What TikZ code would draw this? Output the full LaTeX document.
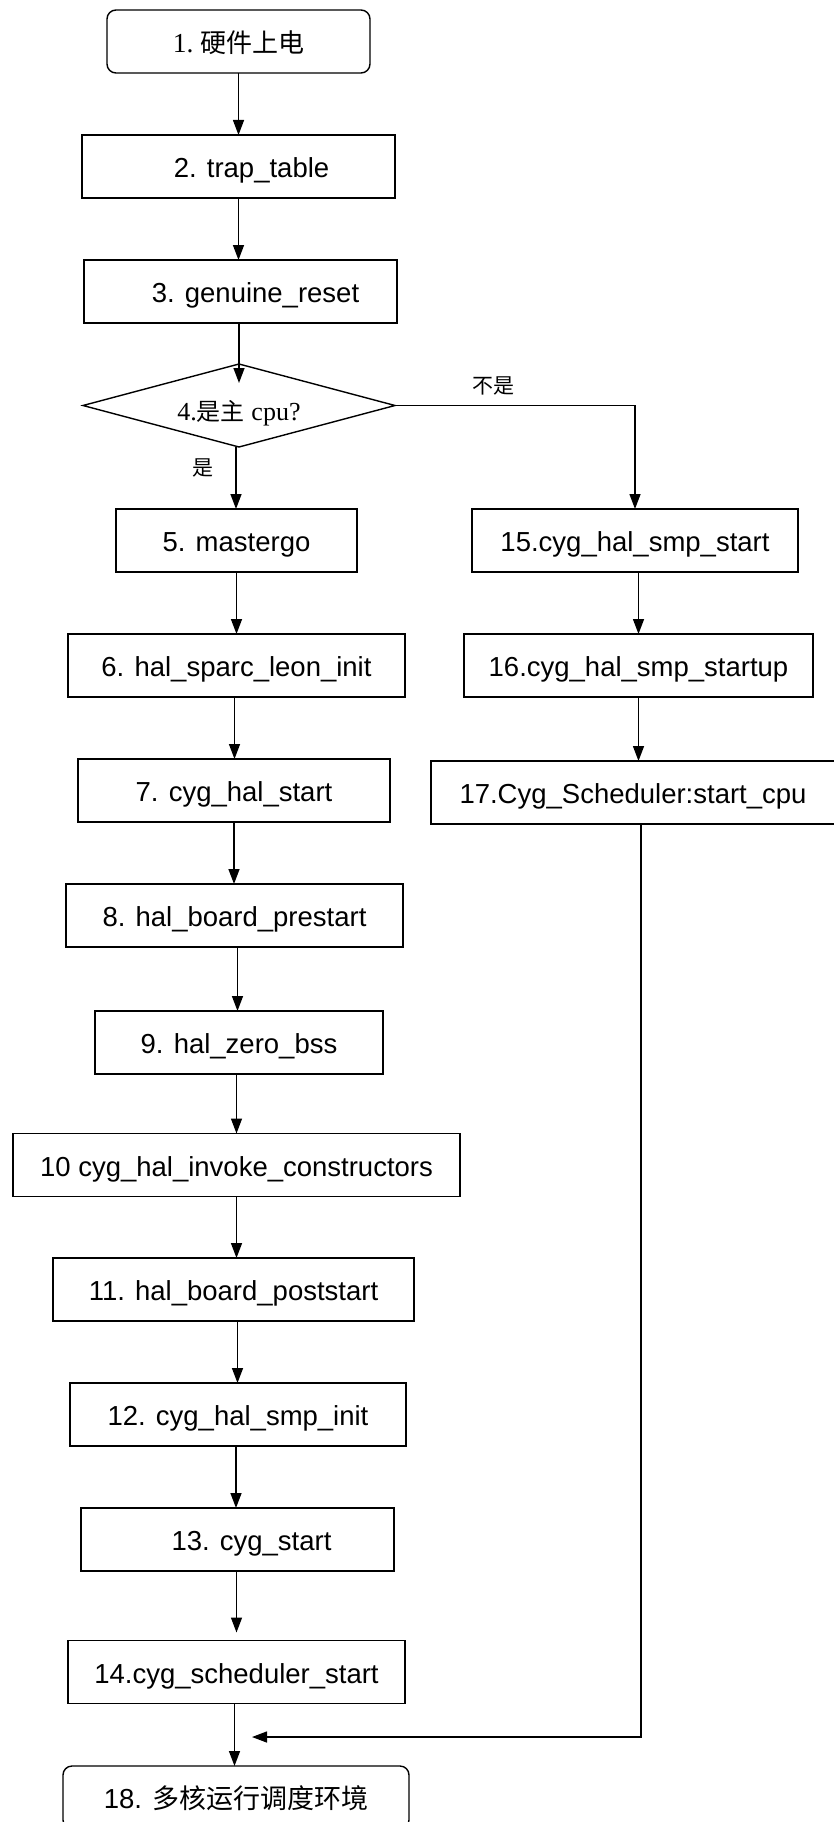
\documentclass[tikz,border=0pt]{standalone}
\usepackage{fontspec}
\setmainfont{Liberation Sans}
\newfontfamily\cjk{Noto Sans CJK SC}
\newfontfamily\tms{Liberation Serif}
\usetikzlibrary{arrows.meta,shapes.geometric}
\begin{document}
\begin{tikzpicture}[x=1pt,y=-1pt,
 box/.style={draw,line width=1.4pt,inner sep=0pt,outer sep=0pt,minimum height=63pt,text height=26pt,text depth=4pt,font=\fontsize{27.5}{32}\selectfont},
 rbox/.style={box,rounded corners=9pt},
 arr/.style={line width=1.4pt,-{Triangle[length=15pt,width=11pt]}},
 lbl/.style={font=\cjk\fontsize{21}{24}\selectfont,inner sep=0pt}]
\useasboundingbox (0,0) rectangle (833,1822);
\fill[white] (0,0) rectangle (833,1822);
% left column
\node[rbox,minimum width=263pt] (b1) at (238.5,41.5) {\tms 1.\ {\cjk\fontsize{26}{30}\selectfont 硬件上电}};
\node[box,minimum width=313pt] (b2) at (238.5,166.5) {\hspace*{26pt}2. trap\_table};
\node[box,minimum width=313pt] (b3) at (240.5,291.5) {\hspace*{30pt}3. genuine\_reset};
\node[draw,line width=1.4pt,shape=diamond,aspect=3.76,minimum width=312pt,minimum height=83pt,inner sep=0pt,outer sep=0pt,font=\fontsize{26}{30}\selectfont] (d4) at (239,405.5) {\raisebox{-15pt}[0pt][0pt]{\tms 4.{\cjk\fontsize{24}{28}\selectfont 是主} cpu?}};
\node[box,minimum width=241pt] (b5) at (236.5,540.5) {5. mastergo};
\node[box,minimum width=337pt] (b6) at (236.5,665.5) {6. hal\_sparc\_leon\_init};
\node[box,minimum width=312pt] (b7) at (234,790.5) {7. cyg\_hal\_start};
\node[box,minimum width=337pt] (b8) at (234.5,915.5) {8. hal\_board\_prestart};
\node[box,minimum width=288pt] (b9) at (239,1042.5) {9. hal\_zero\_bss};
\node[box,minimum width=447pt] (b10) at (236.5,1165) {10 cyg\_hal\_invoke\_constructors};
\node[box,minimum width=361pt] (b11) at (233.5,1289.5) {11. hal\_board\_poststart};
\node[box,minimum width=336pt] (b12) at (238,1414.5) {12. cyg\_hal\_smp\_init};
\node[box,minimum width=313pt] (b13) at (237.5,1539.5) {\hspace*{28pt}13. cyg\_start};
\node[box,minimum width=337pt] (b14) at (236.5,1672) {14.cyg\_scheduler\_start};
\node[rbox,minimum width=346pt] (b18) at (236,1797.5) {18. {\cjk\fontsize{27}{30}\selectfont 多核运行调度环境}};
% right column
\node[box,minimum width=326pt] (b15) at (635,540.5) {15.cyg\_hal\_smp\_start};
\node[box,minimum width=349pt] (b16) at (638.5,665.5) {16.cyg\_hal\_smp\_startup};
\node[box,minimum width=404pt] (b17) at (633,792.5) {17.Cyg\_Scheduler:start\_cpu};
% labels
\node[lbl] (no) at (493,386) {不是};
\node[lbl] (yes) at (203,468) {是};
% connectors
\draw[arr] (b1.south) -- (b1.south |- b2.north);
\draw[arr] (b2.south) -- (b2.south |- b3.north);
\draw[arr] (b3.south -| d4.north) -- ([yshift=-19pt]d4.north);
\draw[arr] ([xshift=-3pt]d4.south) -- ([xshift=-3pt]d4.south |- b5.north);
\draw[arr] (b5.south) -- (b5.south |- b6.north);
\draw[arr] ([xshift=-2pt]b6.south) -- ([xshift=-2pt]b6.south |- b7.north);
\draw[arr] (b7.south) -- (b7.south |- b8.north);
\draw[arr] ([xshift=3pt]b8.south) -- ([xshift=3pt]b8.south |- b9.north);
\draw[arr] (b9.south -| b10.north) -- (b10.north);
\draw[arr] (b10.south) -- (b10.south |- b11.north);
\draw[arr] ([xshift=4pt]b11.south) -- ([xshift=4pt]b11.south |- b12.north);
\draw[arr] ([xshift=-2pt]b12.south) -- ([xshift=-2pt]b12.south |- b13.north);
\draw[arr] ([xshift=-1pt]b13.south) -- ([xshift=-1pt,yshift=8pt]b13.south |- b14.north);
\draw[arr] ([xshift=-2pt]b14.south) -- ([xshift=-2pt]b14.south |- b18.north);
\draw[arr] (d4.east) -| (b15.north);
\draw[arr] (b16.north |- b15.south) -- (b16.north);
\draw[arr] (b16.south) -- (b16.south |- b17.north);
\coordinate (ret) at (252,1737);
\draw[arr] ([xshift=8pt]b17.south) |- (ret);
\end{tikzpicture}
\end{document}
